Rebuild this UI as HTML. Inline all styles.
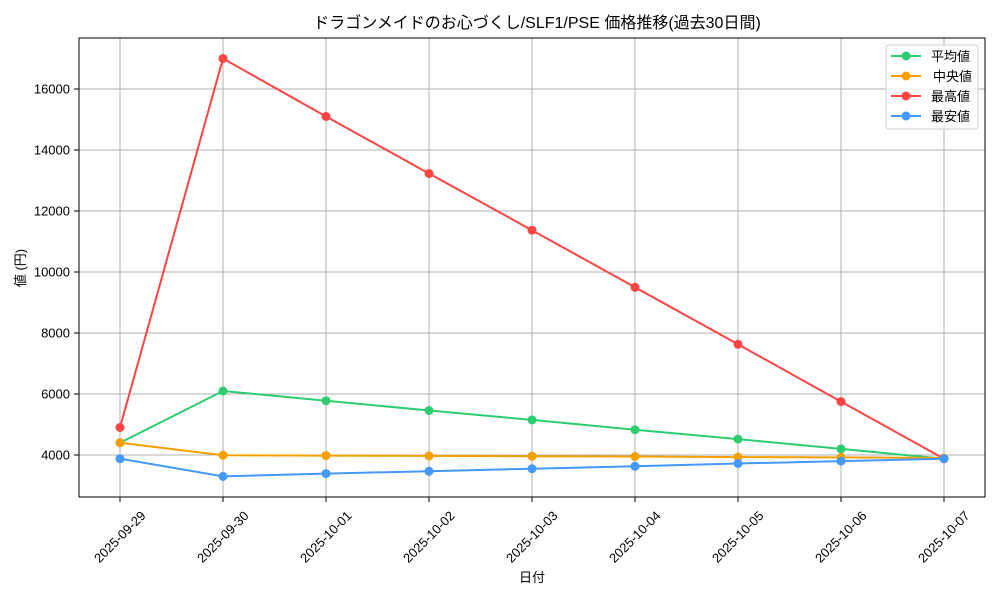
<!DOCTYPE html>
<html><head><meta charset="utf-8"><style>body{margin:0;background:#fff}svg{display:block}text{font-family:"Liberation Sans","Noto Sans CJK JP",sans-serif;fill:#000}</style></head><body>
<svg width="1000" height="600" xmlns="http://www.w3.org/2000/svg">
<rect width="1000" height="600" fill="#fff"/>
<g stroke="#b0b0b0" stroke-width="1">
<line x1="120" y1="38" x2="120" y2="497"/><line x1="223" y1="38" x2="223" y2="497"/><line x1="326" y1="38" x2="326" y2="497"/><line x1="429" y1="38" x2="429" y2="497"/><line x1="532" y1="38" x2="532" y2="497"/><line x1="635" y1="38" x2="635" y2="497"/><line x1="738" y1="38" x2="738" y2="497"/><line x1="841" y1="38" x2="841" y2="497"/><line x1="944" y1="38" x2="944" y2="497"/>
<line x1="79" y1="455" x2="985" y2="455"/><line x1="79" y1="394" x2="985" y2="394"/><line x1="79" y1="333" x2="985" y2="333"/><line x1="79" y1="272" x2="985" y2="272"/><line x1="79" y1="211" x2="985" y2="211"/><line x1="79" y1="150" x2="985" y2="150"/><line x1="79" y1="89" x2="985" y2="89"/>
</g>
<rect x="79" y="38" width="906" height="459" fill="none" stroke="#000" stroke-width="1"/>
<g stroke="#000"><line x1="74" y1="455" x2="79" y2="455"/><line x1="74" y1="394" x2="79" y2="394"/><line x1="74" y1="333" x2="79" y2="333"/><line x1="74" y1="272" x2="79" y2="272"/><line x1="74" y1="211" x2="79" y2="211"/><line x1="74" y1="150" x2="79" y2="150"/><line x1="74" y1="89" x2="79" y2="89"/>
<line x1="120" y1="497" x2="120" y2="502"/><line x1="223" y1="497" x2="223" y2="502"/><line x1="326" y1="497" x2="326" y2="502"/><line x1="429" y1="497" x2="429" y2="502"/><line x1="532" y1="497" x2="532" y2="502"/><line x1="635" y1="497" x2="635" y2="502"/><line x1="738" y1="497" x2="738" y2="502"/><line x1="841" y1="497" x2="841" y2="502"/><line x1="944" y1="497" x2="944" y2="502"/></g>
<g font-size="13" text-anchor="end"><text x="70" y="459.5">4000</text><text x="70" y="398.5">6000</text><text x="70" y="337.5">8000</text><text x="70" y="276.5">10000</text><text x="70" y="215.5">12000</text><text x="70" y="154.5">14000</text><text x="70" y="93.5">16000</text></g>
<g font-size="13" text-anchor="middle">
<text transform="translate(123,540) rotate(-45)">2025-09-29</text><text transform="translate(226,540) rotate(-45)">2025-09-30</text><text transform="translate(329,540) rotate(-45)">2025-10-01</text><text transform="translate(432,540) rotate(-45)">2025-10-02</text><text transform="translate(535,540) rotate(-45)">2025-10-03</text><text transform="translate(638,540) rotate(-45)">2025-10-04</text><text transform="translate(741,540) rotate(-45)">2025-10-05</text><text transform="translate(844,540) rotate(-45)">2025-10-06</text><text transform="translate(947,540) rotate(-45)">2025-10-07</text></g>
<text x="532" y="582" font-size="13" text-anchor="middle">日付</text>
<text transform="translate(25,268) rotate(-90)" font-size="13" text-anchor="middle">値 (円)</text>
<text x="537" y="28" font-size="16" text-anchor="middle">ドラゴンメイドのお心づくし/SLF1/PSE 価格推移(過去30日間)</text>
<g fill="none" stroke-width="2">
<polyline stroke="#2ecc71" points="120,442.8 223,391 326,400.7 429,410.5 532,419.9 635,429.7 738,439.1 841,448.9 944,458.7"/>
<polyline stroke="#f5a000" points="120,442.8 223,455.3 326,455.6 429,455.9 532,456.2 635,456.5 738,457.1 841,457.4 944,458"/>
<polyline stroke="#ff4444" points="120,427.5 223,58.5 326,116.5 429,173.5 532,230.2 635,287.3 738,344.3 841,401.6 944,458.7"/>
<polyline stroke="#4499ff" points="120,458.7 223,476.4 326,473.6 429,471.2 532,468.7 635,466.3 738,463.5 841,461.1 944,458.7"/>
</g>
<g fill="#2ecc71"><circle cx="120" cy="442.8" r="4.5"/><circle cx="223" cy="391" r="4.5"/><circle cx="326" cy="400.7" r="4.5"/><circle cx="429" cy="410.5" r="4.5"/><circle cx="532" cy="419.9" r="4.5"/><circle cx="635" cy="429.7" r="4.5"/><circle cx="738" cy="439.1" r="4.5"/><circle cx="841" cy="448.9" r="4.5"/><circle cx="944" cy="458.7" r="4.5"/></g>
<g fill="#f5a000"><circle cx="120" cy="442.8" r="4.5"/><circle cx="223" cy="455.3" r="4.5"/><circle cx="326" cy="455.6" r="4.5"/><circle cx="429" cy="455.9" r="4.5"/><circle cx="532" cy="456.2" r="4.5"/><circle cx="635" cy="456.5" r="4.5"/><circle cx="738" cy="457.1" r="4.5"/><circle cx="841" cy="457.4" r="4.5"/><circle cx="944" cy="458" r="4.5"/></g>
<g fill="#ff4444"><circle cx="120" cy="427.5" r="4.5"/><circle cx="223" cy="58.5" r="4.5"/><circle cx="326" cy="116.5" r="4.5"/><circle cx="429" cy="173.5" r="4.5"/><circle cx="532" cy="230.2" r="4.5"/><circle cx="635" cy="287.3" r="4.5"/><circle cx="738" cy="344.3" r="4.5"/><circle cx="841" cy="401.6" r="4.5"/><circle cx="944" cy="458.7" r="4.5"/></g>
<g fill="#4499ff"><circle cx="120" cy="458.7" r="4.5"/><circle cx="223" cy="476.4" r="4.5"/><circle cx="326" cy="473.6" r="4.5"/><circle cx="429" cy="471.2" r="4.5"/><circle cx="532" cy="468.7" r="4.5"/><circle cx="635" cy="466.3" r="4.5"/><circle cx="738" cy="463.5" r="4.5"/><circle cx="841" cy="461.1" r="4.5"/><circle cx="944" cy="458.7" r="4.5"/></g>
<rect x="886" y="45" width="92" height="84" rx="3" fill="#fff" fill-opacity="0.8" stroke="#ccc"/>
<g stroke-width="2"><line x1="891" y1="56" x2="921" y2="56" stroke="#2ecc71"/><line x1="891" y1="76" x2="921" y2="76" stroke="#f5a000"/><line x1="891" y1="96" x2="921" y2="96" stroke="#ff4444"/><line x1="891" y1="116" x2="921" y2="116" stroke="#4499ff"/></g>
<circle cx="906" cy="56" r="4.5" fill="#2ecc71"/><circle cx="906" cy="76" r="4.5" fill="#f5a000"/><circle cx="906" cy="96" r="4.5" fill="#ff4444"/><circle cx="906" cy="116" r="4.5" fill="#4499ff"/>
<g font-size="13"><text x="931" y="61">平均値</text><text x="933" y="81">中央値</text><text x="931" y="101">最高値</text><text x="931" y="121">最安値</text></g>
</svg>
</body></html>
